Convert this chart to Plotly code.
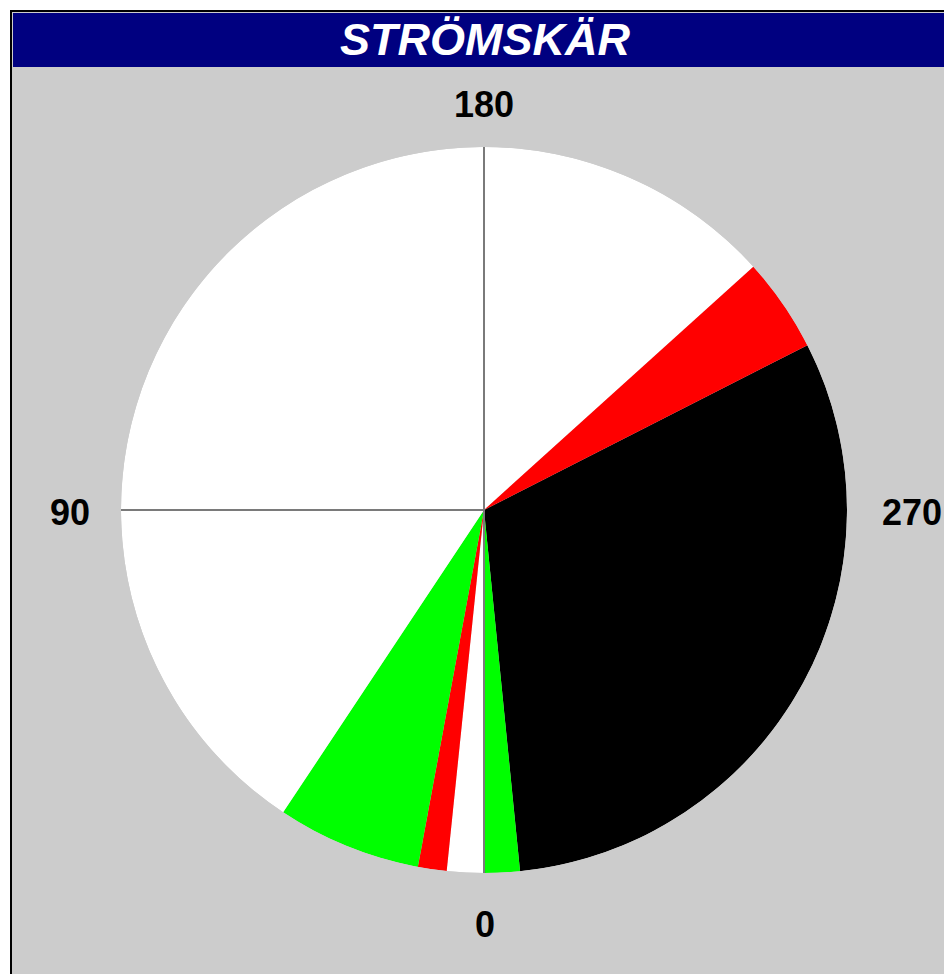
import plotly.graph_objects as go

# ---- data ----
title_text = "STRÖMSKÄR"
sector_start = [243.0, 354.3, 0.0, 5.9, 10.5, 33.6, 227.9]
sector_end = [354.3, 360.0, 5.9, 10.5, 33.6, 227.9, 243.0]
sector_color = ["#000000", "#00ff00", "#ffffff", "#ff0000", "#00ff00", "#ffffff", "#ff0000"]
guide_bearings = [0, 90, 180]
tick_labels = ["0", "90", "180", "270"]

W, H = 944, 974
cx, cy, R = 484, 510, 363


def px(x):
    return x / W


def py(y):
    return 1 - y / H


fig = go.Figure()

fig.add_trace(go.Barpolar(
    r=[1] * len(sector_start),
    theta=[(s + e) / 2 for s, e in zip(sector_start, sector_end)],
    width=[e - s for s, e in zip(sector_start, sector_end)],
    marker=dict(color=sector_color, line=dict(width=0)),
    hoverinfo="skip",
    showlegend=False,
))

for b in guide_bearings:
    fig.add_trace(go.Scatterpolar(
        r=[0, 1], theta=[b, b], mode="lines",
        line=dict(color="#7a7a7a", width=2),
        hoverinfo="skip", showlegend=False,
    ))

fig.update_layout(
    width=W, height=H,
    margin=dict(l=0, r=0, t=0, b=0),
    paper_bgcolor="#ffffff",
    plot_bgcolor="rgba(0,0,0,0)",
    polar=dict(
        domain=dict(x=[px(cx - R), px(cx + R)], y=[py(cy + R), py(cy - R)]),
        bgcolor="rgba(0,0,0,0)",
        bargap=0,
        radialaxis=dict(visible=False, range=[0, 1]),
        angularaxis=dict(visible=False, direction="clockwise", rotation=270,
                         showgrid=False, showline=False, ticks=""),
    ),
    shapes=[
        dict(type="rect", xref="paper", yref="paper", layer="below",
             x0=px(11), x1=px(W + 20), y0=py(H + 20), y1=py(11),
             fillcolor="#cccccc", line=dict(color="#000000", width=2)),
        dict(type="rect", xref="paper", yref="paper", layer="below",
             x0=px(13), x1=px(W + 20), y0=py(67), y1=py(13),
             fillcolor="#000080", line=dict(width=0)),
    ],
)

label_pos = {"0": (485, 924), "90": (70, 512), "180": (484, 104), "270": (912, 512)}
lab_font = dict(family="Liberation Sans, Arial", size=36, color="#000000")
for t in tick_labels:
    x, y = label_pos[t]
    fig.add_annotation(x=px(x), y=py(y), xref="paper", yref="paper",
                       text="<b>" + t + "</b>", showarrow=False,
                       xanchor="center", yanchor="middle", font=lab_font)

fig.add_annotation(x=px(485), y=py(40), xref="paper", yref="paper",
                   text="<b><i>" + title_text + "</i></b>", showarrow=False,
                   xanchor="center", yanchor="middle",
                   font=dict(family="Liberation Sans, Arial", size=45, color="#ffffff"))

fig.write_html("out.html", config={"displayModeBar": False},
               post_script="document.body.style.margin='0';document.body.style.overflow='hidden';")
